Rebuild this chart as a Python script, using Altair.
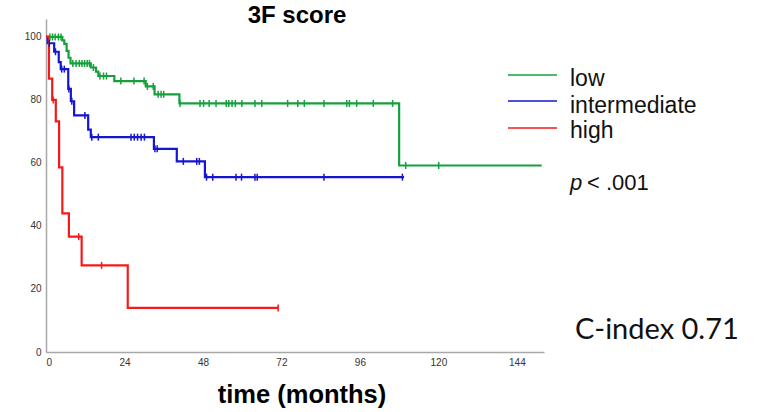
import altair as alt
import pandas as pd

groups = ["low", "intermediate", "high"]
colors = ["#16a03c", "#1515d2", "#f51a1a"]

# Kaplan-Meier steps (time in months, survival %)
low_t = [0, 5.0, 5.6, 6.3, 6.9, 7.5, 13.7, 15.3, 16.0, 20.9, 30.5, 33.2, 40.8, 108.0, 151.6]
low_s = [100, 98.9, 97.8, 95.6, 93.4, 91.6, 90.3, 89.0, 87.6, 86.0, 84.3, 81.8, 78.9, 59.2, 59.2]
low_c = [1.2, 2.0, 2.8, 3.8, 4.6, 8.2, 9.2, 10.2, 11.0, 11.8, 12.6, 13.3, 14.5, 16.5, 17.6, 18.5,
         22.9, 26.9, 30.0, 31.0, 32.8, 34.3, 35.2, 36.0, 41.0, 47.1, 48.2, 49.9, 52.0, 55.1, 55.9,
         56.9, 57.9, 59.9, 63.9, 66.0, 73.9, 77.0, 79.0, 85.0, 92.0, 92.8, 95.0, 100.1, 106.0,
         110.0, 120.1]

int_t = [0, 0.5, 2.5, 3.9, 4.5, 6.8, 7.6, 8.6, 12.9, 13.7, 33.0, 40.0, 48.6, 109.5]
int_s = [100, 98.0, 95.3, 92.0, 89.8, 83.5, 79.6, 75.1, 70.6, 68.2, 64.5, 60.5, 55.5, 55.5]
int_c = [1.0, 2.9, 4.8, 5.6, 7.0, 7.9, 11.9, 14.0, 16.0, 26.0, 27.0, 28.0, 29.1, 30.1, 33.3, 34.0,
         42.0, 46.1, 46.9, 49.1, 51.0, 58.1, 59.8, 63.9, 64.6, 85.0, 109.0]

high_t = [0, 0.9, 1.9, 3.0, 4.0, 5.0, 7.0, 10.9, 25.0, 71.0]
high_s = [100, 86.8, 80.0, 73.2, 58.6, 44.0, 36.6, 27.5, 14.0, 14.0]
high_c = [2.2, 10.0, 17.0, 71.0]

x_ticks = [0, 24, 48, 72, 96, 120, 144]
y_ticks = [0, 20, 40, 60, 80, 100]

series = {
    "low": (low_t, low_s, low_c),
    "intermediate": (int_t, int_s, int_c),
    "high": (high_t, high_s, high_c),
}

line_rows, cens_rows = [], []
for g, (ts, ss, cs) in series.items():
    for t, s in zip(ts, ss):
        line_rows.append({"group": g, "t": t, "s": s})
    for c in cs:
        val = ss[0]
        for t, s in zip(ts, ss):
            if t <= c:
                val = s
        cens_rows.append({"group": g, "t": c, "s": val})
lines_df = pd.DataFrame(line_rows)
cens_df = pd.DataFrame(cens_rows)

xs = alt.Scale(domain=[0, 152.3], nice=False, zero=False)
ys = alt.Scale(domain=[0, 105.7], nice=False)
cs = alt.Scale(domain=groups, range=colors)

base_x = alt.X("t:Q", scale=xs, axis=alt.Axis(values=x_ticks, title=None, labelPadding=5))
base_y = alt.Y("s:Q", scale=ys, axis=alt.Axis(values=y_ticks, title=None, labelPadding=5))

lines = alt.Chart(lines_df).mark_line(interpolate="step-after", strokeWidth=2.2).encode(
    x=base_x, y=base_y, color=alt.Color("group:N", scale=cs, legend=None)
)
cens = alt.Chart(cens_df).mark_point(
    shape="M0,-1L0,1", size=49, strokeWidth=1.5, filled=False, opacity=1
).encode(x="t:Q", y="s:Q", color=alt.Color("group:N", scale=cs, legend=None))

dummy = pd.DataFrame({"a": [0]})
layers = [lines, cens]

leg_y = [56, 82, 109]
leg_text_y = [67, 93.5, 118.5]
for g, c, ly, ty in zip(groups, colors, leg_y, leg_text_y):
    layers.append(alt.Chart(dummy).mark_rule(color=c, strokeWidth=1.6).encode(
        x=alt.value(462), x2=alt.value(511), y=alt.value(ly)))
    layers.append(alt.Chart(dummy).mark_text(
        text=g, align="left", baseline="alphabetic", fontSize=23, font="Liberation Sans", color="#111"
    ).encode(x=alt.value(524), y=alt.value(ty)))

layers.append(alt.Chart(dummy).mark_text(
    text="p", align="left", baseline="alphabetic", fontSize=22, fontStyle="italic",
    font="Liberation Sans", color="#111").encode(x=alt.value(524), y=alt.value(171)))
layers.append(alt.Chart(dummy).mark_text(
    text="< .001", align="left", baseline="alphabetic", fontSize=22,
    font="Liberation Sans", color="#111").encode(x=alt.value(541), y=alt.value(171)))
layers.append(alt.Chart(dummy).mark_text(
    text="C-index 0.71", align="left", baseline="middle", fontSize=29,
    font="Lato", color="#111").encode(x=alt.value(529), y=alt.value(311)))
layers.append(alt.Chart(dummy).mark_text(
    text="3F score", align="center", baseline="middle", fontSize=24, fontWeight="bold",
    font="Liberation Sans", color="#000").encode(x=alt.value(251), y=alt.value(-3)))
layers.append(alt.Chart(dummy).mark_text(
    text="time (months)", align="center", baseline="middle", fontSize=25.5, fontWeight="bold",
    font="Liberation Sans", color="#000").encode(x=alt.value(256), y=alt.value(376)))

chart = alt.layer(*layers).properties(
    width=498, height=333,
    padding={"left": 46, "top": 19, "right": 217, "bottom": 60},
    autosize=alt.AutoSizeParams(type="none"),
).configure_axis(
    grid=False, domainColor="#a8a8a8", domainWidth=1.5, ticks=False,
    labelFontSize=10, labelColor="#333333", labelFont="Liberation Sans"
).configure_view(stroke=None)

chart.save("out.html", embed_options={"renderer": "svg", "actions": False})
